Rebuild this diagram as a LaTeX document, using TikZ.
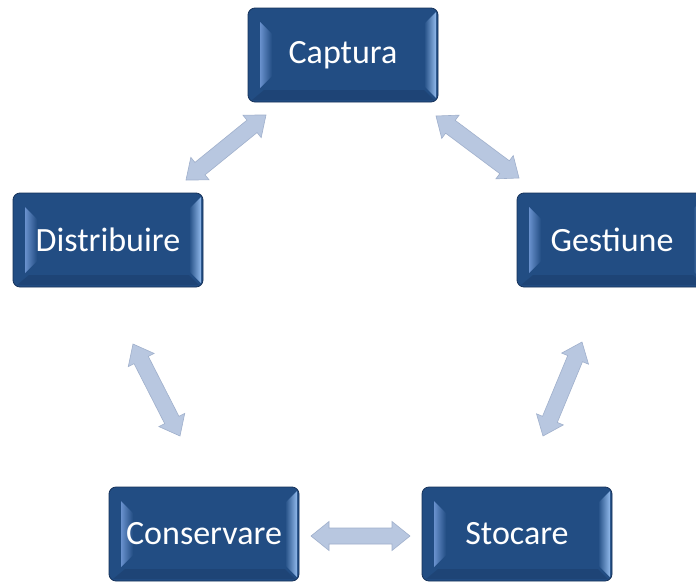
\documentclass[tikz,border=0pt]{standalone}
\usepackage{fontspec}
\setmainfont{Carlito}
\usetikzlibrary{calc}
\definecolor{boxblue}{RGB}{34,77,131}
\definecolor{boxedge}{RGB}{22,50,90}
\definecolor{bevl}{RGB}{105,145,205}
\definecolor{bevr}{RGB}{145,185,235}
\definecolor{arrfill}{RGB}{184,199,224}
\definecolor{arredge}{RGB}{160,176,204}
\tikzset{
  box/.style={rounded corners=7pt, fill=boxblue, draw=boxedge, line width=0.8pt,
    minimum width=190pt, minimum height=94pt, inner sep=0pt, text=white,
    font=\fontsize{34}{34}\selectfont,
    path picture={
      \coordinate (bnw) at (path picture bounding box.north west);
      \coordinate (bne) at (path picture bounding box.north east);
      \coordinate (bsw) at (path picture bounding box.south west);
      \coordinate (bse) at (path picture bounding box.south east);
      \fill[sharp corners, left color=bevl, right color=boxblue]
        ([shift={(12pt,-14pt)}]bnw) -- ([shift={(24pt,-26pt)}]bnw) --
        ([shift={(24pt,26pt)}]bsw) -- ([shift={(12pt,14pt)}]bsw) -- cycle;
      \fill[sharp corners, left color=boxblue, right color=bevr]
        ([shift={(-14pt,-16pt)}]bne) -- ([shift={(-2pt,-4pt)}]bne) --
        ([shift={(-2pt,4pt)}]bse) -- ([shift={(-14pt,16pt)}]bse) -- cycle;
      \fill[sharp corners, boxedge, opacity=0.3]
        ([shift={(16pt,12pt)}]bsw) -- ([shift={(-14pt,12pt)}]bse) --
        ([shift={(-4pt,2pt)}]bse) -- ([shift={(4pt,2pt)}]bsw) -- cycle;
    }},
  arrowbody/.style={fill=arrfill, draw=arredge, line width=0.6pt, line join=miter}
}
\newcommand{\blockarrow}[2]{%
  \coordinate (ba1) at ($(#1)!18pt!(#2)$);
  \coordinate (ba2) at ($(#2)!18pt!(#1)$);
  \path[arrowbody] (#1) -- ($(ba1)!14.5pt!90:(#2)$) -- ($(ba1)!8pt!90:(#2)$)
    -- ($(ba2)!8pt!-90:(#1)$) -- ($(ba2)!14.5pt!-90:(#1)$) -- (#2)
    -- ($(ba2)!14.5pt!90:(#1)$) -- ($(ba2)!8pt!90:(#1)$)
    -- ($(ba1)!8pt!-90:(#2)$) -- ($(ba1)!14.5pt!-90:(#2)$) -- cycle;}
\begin{document}
\begin{tikzpicture}[x=1pt, y=-1pt]
\clip (0,0) rectangle (696,581);
\fill[white] (0,0) rectangle (696,581);
\node[box] (cap) at (343,55) {\raisebox{-1.5pt}{Captura}};
\node[box] (dis) at (108,240) {\raisebox{-1.5pt}{Distribuire}};
\node[box] (ges) at (612,240) {\raisebox{-1.5pt}{Gestiune}};
\node[box] (con) at (204,534) {\raisebox{-1.5pt}{Conservare}};
\node[box] (sto) at (517,534) {\raisebox{-1.5pt}{Stocare}};
\coordinate (a1s) at (186,180);
\coordinate (a1e) at (266,115);
\coordinate (a2s) at (436,116);
\coordinate (a2e) at (519,178);
\coordinate (a3s) at (133,344);
\coordinate (a3e) at (180,436);
\coordinate (a4s) at (582,342);
\coordinate (a4e) at (543,436);
\coordinate (a5s) at (311,536);
\coordinate (a5e) at (410,536);
\blockarrow{a1s}{a1e}
\blockarrow{a2s}{a2e}
\blockarrow{a3s}{a3e}
\blockarrow{a4s}{a4e}
\blockarrow{a5s}{a5e}
\end{tikzpicture}
\end{document}
